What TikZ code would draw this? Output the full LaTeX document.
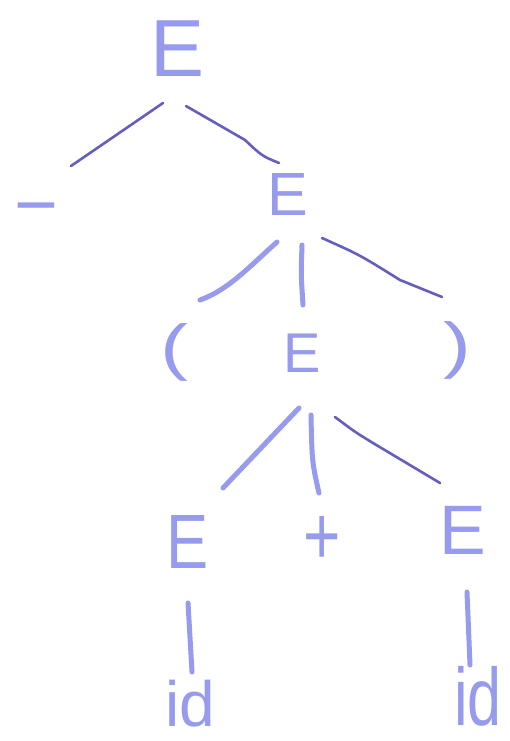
\documentclass[tikz,border=0pt]{standalone}
\usepackage{graphicx}
\usepackage{fontspec}
\setmainfont{Liberation Sans}
\definecolor{ink}{RGB}{150,155,238}
\definecolor{pen}{RGB}{100,95,190}
\begin{document}
\begin{tikzpicture}[x=1pt,y=-1pt,
  sym/.style={text=ink,inner sep=0pt},
  lt/.style={draw=ink,line width=5pt,line cap=round,line join=round},
  dk/.style={draw=pen,line width=2.6pt,line cap=round,line join=round}]
\useasboundingbox (0,0) rectangle (509,741);
\fill[white] (0,0) rectangle (509,741);
% symbols
\node[sym,font=\fontsize{81}{81}\selectfont] (r) at (178,49) {E};
\node[sym,font=\fontsize{75}{75}\selectfont,anchor=base] (m) at (36,230) {−};
\node[sym,font=\fontsize{61}{61}\selectfont] (e2) at (288,195) {E};
\node[sym,font=\fontsize{62}{62}\selectfont] (lp) at (174,352) {\scalebox{1.35}[1]{(}};
\node[sym,font=\fontsize{56}{56}\selectfont] (e3) at (302,353) {E};
\node[sym,font=\fontsize{62}{62}\selectfont] (rp) at (457,350) {\scalebox{1.35}[1]{)}};
\node[sym,font=\fontsize{77}{77}\selectfont] (e4) at (188,542) {\scalebox{0.82}[1]{E}};
\node[sym,font=\fontsize{64}{64}\selectfont] (pl) at (322,540) {\scalebox{1}[1.3]{+}};
\node[sym,font=\fontsize{70}{70}\selectfont] (e5) at (463,530) {E};
\node[sym,font=\fontsize{64}{64}\selectfont] (id1) at (190,704) {id};
\node[sym,font=\fontsize{68}{68}\selectfont] (id2) at (478,696) {\scalebox{0.9}[1.2]{id}};
% connector ends
\coordinate (r-m1) at (163,103);   \coordinate (r-m2) at (71,166);
\coordinate (r-e1) at (186,106);   \coordinate (r-e2) at (279,163);
\coordinate (e2-l1) at (277,242);  \coordinate (e2-l2) at (200,300);
\coordinate (e2-e1) at (302,245);  \coordinate (e2-e2) at (303,305);
\coordinate (e2-r1) at (322,238);  \coordinate (e2-r2) at (442,297);
\coordinate (e3-a1) at (299,408);  \coordinate (e3-a2) at (223,488);
\coordinate (e3-p1) at (311,415);  \coordinate (e3-p2) at (319,493);
\coordinate (e3-b1) at (335,417);  \coordinate (e3-b2) at (440,483);
\coordinate (e4-i1) at (188,603);  \coordinate (e4-i2) at (192,672);
\coordinate (e5-i1) at (467,592);  \coordinate (e5-i2) at (470,665);
% connectors
\draw[dk] (r-m1) -- (r-m2);
\draw[dk] (r-e1) -- (245,140) .. controls (262,156) .. (r-e2);
\draw[lt] (e2-l1) .. controls (248,268) and (228,290) .. (e2-l2);
\draw[lt] (e2-e1) .. controls (301,275) .. (e2-e2);
\draw[dk] (e2-r1) .. controls (360,255) .. (400,280) -- (e2-r2);
\draw[lt] (e3-a1) -- (e3-a2);
\draw[lt] (e3-p1) .. controls (312,462) .. (e3-p2);
\draw[dk] (e3-b1) .. controls (355,432) .. (373,443) -- (e3-b2);
\draw[lt] (e4-i1) -- (e4-i2);
\draw[lt] (e5-i1) -- (e5-i2);
\end{tikzpicture}
\end{document}
